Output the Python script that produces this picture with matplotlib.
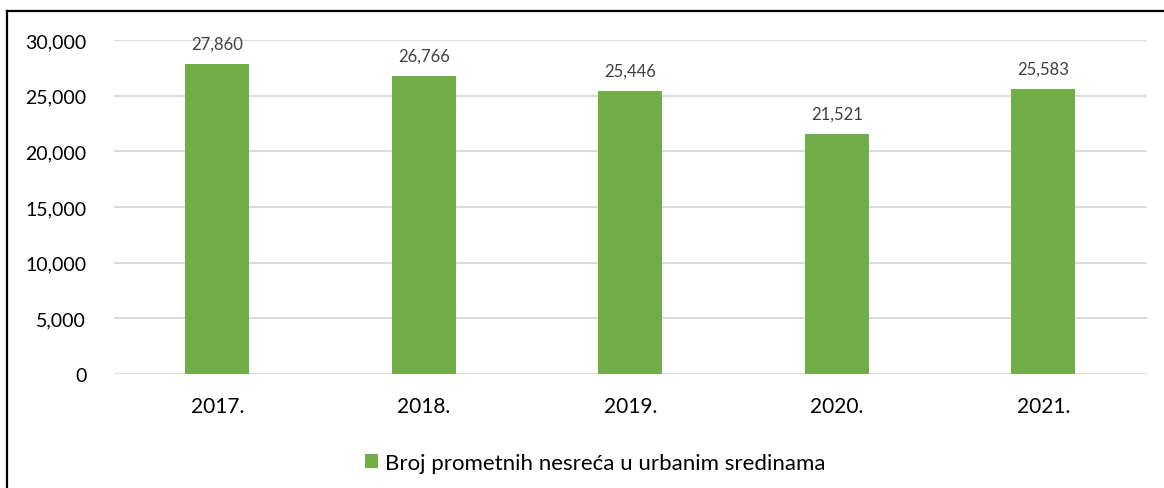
import matplotlib.pyplot as plt
from matplotlib.lines import Line2D
from matplotlib.ticker import FuncFormatter

years = ['2017.', '2018.', '2019.', '2020.', '2021.']
values = [27860, 26766, 25446, 21521, 25583]
label = 'Broj prometnih nesreća u urbanim sredinama'

plt.rcParams['font.family'] = ['Lato', 'DejaVu Sans']

fig = plt.figure(figsize=(11.64, 4.89), dpi=100)
ax = fig.add_axes([0.098, 0.233, 0.887, 0.683])

bars = ax.bar(years, values, width=0.31, color='#70AD47', label=label, zorder=3)
ax.set_ylim(0, 30000)
ax.set_xlim(-0.5, 4.5)
ax.set_yticks(range(0, 30001, 5000))
ax.yaxis.set_major_formatter(FuncFormatter(lambda v, p: f'{int(v):,}'))
ax.grid(axis='y', color='#D9D9D9', linewidth=1.3, zorder=0)
ax.set_axisbelow(True)
for s in ax.spines.values():
    s.set_visible(False)
ax.tick_params(length=0, labelcolor='black')
ax.tick_params(axis='y', pad=20, labelsize=14)
ax.tick_params(axis='x', pad=16, labelsize=15)

for b, v in zip(bars, values):
    ax.annotate(f'{v:,}', (b.get_x() + b.get_width() / 2, v),
                xytext=(0, 9), textcoords='offset points',
                ha='center', va='bottom', fontsize=12, color='#404040')

ax.legend(loc='upper center', bbox_to_anchor=(0.466, -0.175), frameon=False,
          fontsize=16, handlelength=0.6, handleheight=0.6, handletextpad=0.3)

# frame lines from the source image (left and top only)
fig.add_artist(Line2D([7 / 1164, 7 / 1164], [0, 1 - 12 / 489], color='black', lw=1.6))
fig.add_artist(Line2D([7 / 1164, 1], [1 - 12 / 489, 1 - 12 / 489], color='black', lw=1.6))

plt.savefig('out.png', dpi=100)
